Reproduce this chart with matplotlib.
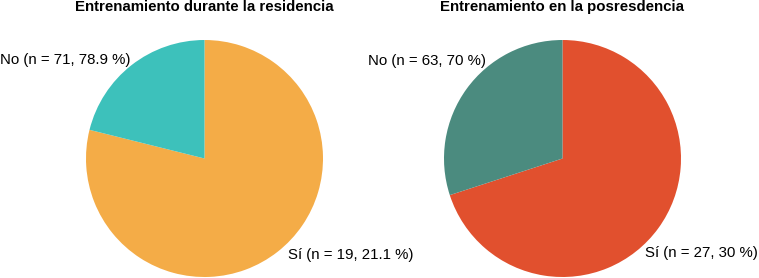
import matplotlib
matplotlib.use("Agg")
import matplotlib.pyplot as plt

plt.rcParams['font.family'] = ['Liberation Sans', 'DejaVu Sans']

titles = ["Entrenamiento durante la residencia", "Entrenamiento en la posresdencia"]
# slice values as drawn (clockwise from top)
values_left = [71, 19]
values_right = [63, 27]
colors_left = ["#F4AC47", "#3DC1BB"]
colors_right = ["#E1502E", "#4B8B7F"]
labels_left = ["No (n = 71, 78.9 %)", "Sí (n = 19, 21.1 %)"]
labels_right = ["No (n = 63, 70 %)", "Sí (n = 27, 30 %)"]

W, H = 759, 278
fig = plt.figure(figsize=(W / 100, H / 100), dpi=100)

r = 118.5
centers = [(204.5, 158.5), (562.5, 158.5)]
vals = [values_left, values_right]
cols = [colors_left, colors_right]
labs = [labels_left, labels_right]
no_pos = [(130, 60), (486, 61)]
si_pos = [(288, 255), (645, 253)]

for i in range(2):
    cx, cy = centers[i]
    ax = fig.add_axes([(cx - r) / W, (H - cy - r) / H, 2 * r / W, 2 * r / H])
    ax.pie(vals[i], colors=cols[i], startangle=90, counterclock=False,
           radius=1, wedgeprops=dict(linewidth=0))
    ax.set_xlim(-1, 1)
    ax.set_ylim(-1, 1)
    ax.set_aspect('equal')
    ax.axis('off')
    fig.text(cx / W, 1 - 7 / H, titles[i], ha='center', va='center',
             fontsize=10.8, fontweight='bold')
    fig.text(no_pos[i][0] / W, 1 - no_pos[i][1] / H, labs[i][0], ha='right',
             va='center', fontsize=10.8)
    fig.text(si_pos[i][0] / W, 1 - si_pos[i][1] / H, labs[i][1], ha='left',
             va='center', fontsize=10.8)

fig.savefig("out.png", dpi=100)
